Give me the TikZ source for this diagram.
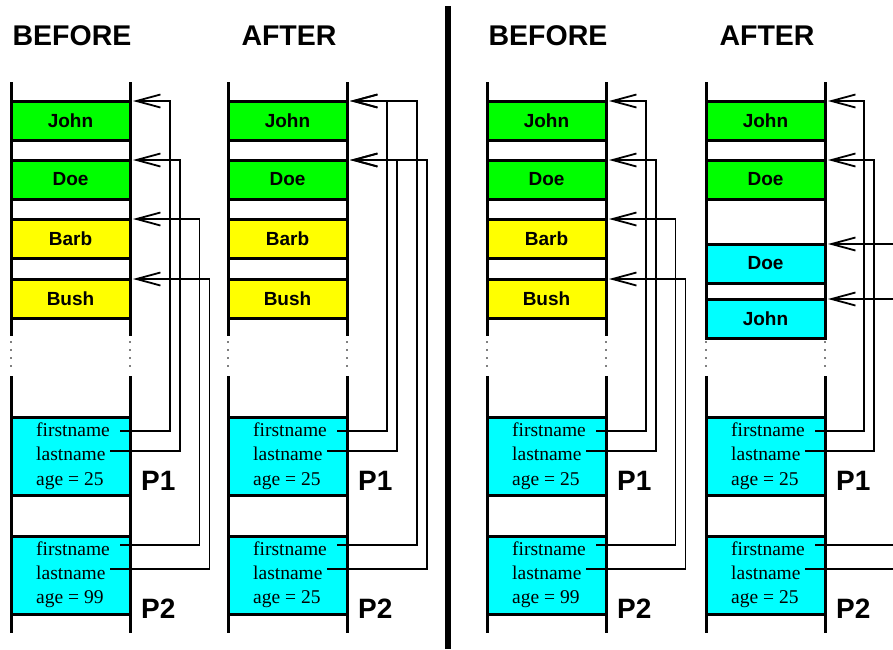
\documentclass[tikz,border=0pt]{standalone}
\usepackage{fontspec}
\setmainfont{Liberation Serif}
\newfontfamily\hsans{Liberation Sans}
\usetikzlibrary{arrows.meta}
\definecolor{cgreen}{RGB}{0,255,0}
\definecolor{cyellow}{RGB}{255,255,0}
\definecolor{ccyan}{RGB}{0,255,255}
\begin{document}
\begin{tikzpicture}[x=1pt,y=-1pt,
  wall/.style={line width=3pt},
  gap/.style={gray, line width=1.4pt, dash pattern=on 2pt off 6pt},
  cell/.style={draw, line width=3pt, minimum width=119pt, minimum height=39pt,
    inner sep=0pt, outer sep=0pt, anchor=north west,
    font=\hsans\bfseries\fontsize{19pt}{21pt}\selectfont},
  rec/.style={draw, line width=3pt, minimum width=119pt, minimum height=78pt,
    inner sep=0pt, outer sep=0pt, anchor=north west, fill=ccyan},
  field/.style={anchor=base west, inner sep=0pt, font=\fontsize{19.5pt}{21pt}\selectfont},
  head/.style={inner sep=0pt, font=\hsans\bfseries\fontsize{28.5pt}{30pt}\selectfont},
  plabel/.style={anchor=west, inner sep=0pt, font=\hsans\bfseries\fontsize{28pt}{30pt}\selectfont},
  link/.style={line width=1.8pt},
  ptr/.style={link, -{Straight Barb[length=24pt,width=13pt]}},
]
\useasboundingbox (0,0) rectangle (893,649);
\fill[white] (0,0) rectangle (893,649);

% divider
\draw[line width=6pt] (447.7,6) -- (447.7,649);

\foreach \c/\L/\h/\ag in {1/11/BEFORE/99,2/228/AFTER/25,3/487/BEFORE/99,4/706/AFTER/25}{
  \foreach \dx in {0,119}{
    \draw[wall] (\L+\dx,82) -- (\L+\dx,336);
    \draw[gap] (\L+\dx,341) -- (\L+\dx,372);
    \draw[wall] (\L+\dx,376) -- (\L+\dx,633);
  }
  \node[head] (head\c) at (\L+61,36) {\h};
  \node[cell,fill=cgreen] (john\c) at (\L,101) {John};
  \node[cell,fill=cgreen] (doe\c) at (\L,160) {Doe};
  \node[rec] (pa\c) at (\L,417) {};
  \node[rec] (pb\c) at (\L,536) {};
  \node[field] (paf\c) at (\L+25,436) {firstname};
  \node[field] (pal\c) at (\L+25,460) {lastname};
  \node[field] (paa\c) at (\L+25,485) {age = 25};
  \node[field] (pbf\c) at (\L+25,555) {firstname};
  \node[field] (pbl\c) at (\L+25,579) {lastname};
  \node[field] (pba\c) at (\L+25,603) {age = \ag};
  \node[plabel] (pla\c) at (\L+130,481) {P1};
  \node[plabel] (plb\c) at (\L+130,609) {P2};
  \coordinate (oaf\c) at (\L+109,431);
  \coordinate (oal\c) at (\L+99,451);
  \coordinate (obf\c) at (\L+109,545);
  \coordinate (obl\c) at (\L+99,569);
}

% yellow cells in columns 1, 2, 3
\foreach \c/\L in {1/11,2/228,3/487}{
  \node[cell,fill=cyellow] (barb\c) at (\L,219) {Barb};
  \node[cell,fill=cyellow] (bush\c) at (\L,279) {Bush};
}
% cyan cells in column 4
\node[cell,fill=ccyan] (doex4) at (706,244) {Doe};
\node[cell,fill=ccyan] (johnx4) at (706,299) {John};

% BEFORE columns
\foreach \c in {1,3}{
  \draw[ptr] (oaf\c) -| ([xshift=40pt]john\c.north east) -- ([xshift=3pt]john\c.north east);
  \draw[ptr] (oal\c) -| ([xshift=50pt]doe\c.north east) -- ([xshift=3pt]doe\c.north east);
  \draw[ptr] (obf\c) -| ([xshift=69.5pt]barb\c.north east) -- ([xshift=3pt]barb\c.north east);
  \draw[ptr] (obl\c) -| ([xshift=79.5pt]bush\c.north east) -- ([xshift=3pt]bush\c.north east);
}
% AFTER column (left)
\draw[ptr] (oaf2) -| ([xshift=40pt]john2.north east) -- ([xshift=3pt]john2.north east);
\draw[ptr] (oal2) -| ([xshift=50pt]doe2.north east) -- ([xshift=3pt]doe2.north east);
\draw[ptr] (obf2) -| ([xshift=70pt]john2.north east) -- ([xshift=3pt]john2.north east);
\draw[ptr] (obl2) -| ([xshift=80pt]doe2.north east) -- ([xshift=3pt]doe2.north east);
% AFTER column (right)
\draw[ptr] (oaf4) -| ([xshift=39pt]john4.north east) -- ([xshift=3pt]john4.north east);
\draw[ptr] (oal4) -| ([xshift=49pt]doe4.north east) -- ([xshift=3pt]doe4.north east);
\coordinate (edgeD) at (894,244);
\coordinate (edgeJ) at (894,299);
\coordinate (edgeF) at (894,545);
\coordinate (edgeL) at (894,569);
\draw[ptr] (edgeD) -- ([xshift=3pt]doex4.north east);
\draw[ptr] (edgeJ) -- ([xshift=3pt]johnx4.north east);
\draw[link] (obf4) -- (edgeF);
\draw[link] (obl4) -- (edgeL);
\end{tikzpicture}
\end{document}
